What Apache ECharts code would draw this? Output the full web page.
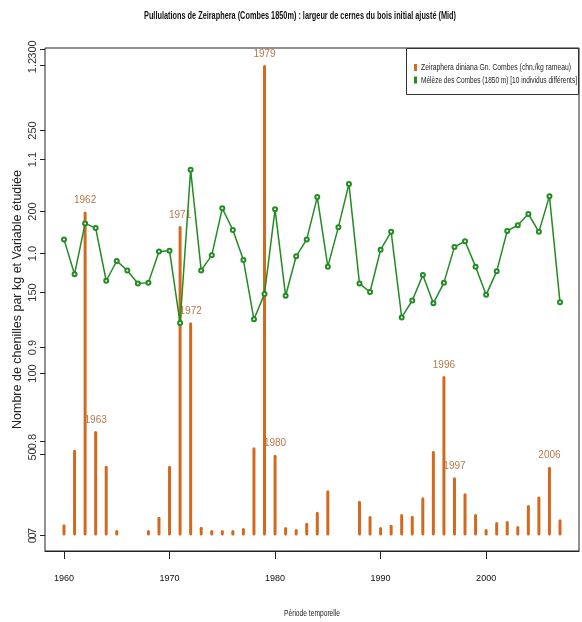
<!DOCTYPE html>
<html><head><meta charset="utf-8">
<script src="https://cdn.jsdelivr.net/npm/echarts@6/dist/echarts.min.js"></script>
<style>html,body{margin:0;padding:0;background:#fff}#c{width:582px;height:622px}</style>
</head><body><div id="c"></div>
<script>
// Caterpillar density (chn./kg rameau)
const barYears = [1960,1961,1962,1963,1964,1965,1968,1969,1970,1971,1972,1973,1974,1975,1976,1977,1978,1979,1980,1981,1982,1983,1984,1985,1988,1989,1990,1991,1992,1993,1994,1995,1996,1997,1998,1999,2000,2001,2002,2003,2004,2005,2006,2007];
const barValues = [7,53,200,64.5,43,3.4,3.4,11.6,43,191,131.6,5.4,3.4,3.4,3.4,4.6,54.4,290.4,49.9,5.2,4,7.9,14.7,28,21.5,12,5.2,6.7,13.3,12.2,23.6,52.3,98.5,35.9,26,13.3,4,8.3,9,5.9,18.8,24,42.5,10];
const labeledYears = [1962,1963,1971,1972,1979,1980,1996,1997,2006];
// Larch ring width index, 1960..2007
const lineYears = [1960,1961,1962,1963,1964,1965,1966,1967,1968,1969,1970,1971,1972,1973,1974,1975,1976,1977,1978,1979,1980,1981,1982,1983,1984,1985,1986,1987,1988,1989,1990,1991,1992,1993,1994,1995,1996,1997,1998,1999,2000,2001,2002,2003,2004,2005,2006,2007];
const lineValues = [1.015,0.978,1.032,1.027,0.971,0.992,0.982,0.968,0.969,1.002,1.003,0.926,1.089,0.982,0.998,1.048,1.025,0.993,0.930,0.957,1.047,0.955,0.997,1.015,1.060,0.986,1.028,1.074,0.968,0.959,1.004,1.023,0.932,0.950,0.977,0.947,0.969,1.007,1.013,0.986,0.956,0.981,1.024,1.030,1.042,1.023,1.061,0.948];
const xTicks = [1960,1970,1980,1990,2000];
const countTicks = [0,50,100,150,200,250,300];
const ringTicks = [0.7,0.8,0.9,1.0,1.1,1.2];

const seriesNames = ['Zeiraphera diniana Gn. Combes (chn./kg rameau)','Mélèze des Combes (1850 m) [10 individus différents]'];
const titleText = 'Pullulations de Zeiraphera (Combes 1850m) : largeur de cernes du bois initial ajusté (Mid)';
const xName = 'Période temporelle';
const yName = 'Nombre de chenilles par kg et Variable étudiée';

const SANS = '"Liberation Sans", Arial, sans-serif';
const ORANGE = '#D2691E';
const GREEN = '#228B22';

// helper: horizontal condensing factor so a text fits a given width (emulates a narrow font)
const ctx = document.createElement('canvas').getContext('2d');
function squeeze(text, size, weight, width){
  ctx.font = (weight||'normal') + ' ' + size + 'px ' + SANS;
  return Math.min(1, width / ctx.measureText(text).width);
}

const chart = echarts.init(document.getElementById('c'), null, {renderer:'canvas'});
chart.setOption({
  animation:false,
  backgroundColor:'#fff',
  legend:{show:false, data:seriesNames},
  graphic:[
    {type:'text', x:300, y:16, scaleX:squeeze(titleText,10.5,'bold',312),
     style:{text:titleText, font:'bold 10.5px '+SANS, fill:'#111', align:'center', verticalAlign:'middle'}},
    {type:'text', x:312, y:613, scaleX:squeeze(xName,9.5,'normal',56),
     style:{text:xName, font:'9.5px '+SANS, fill:'#222', align:'center', verticalAlign:'middle'}},
    {type:'rect', shape:{x:406.5, y:48.5, width:172, height:46},
     style:{fill:'#fff', stroke:'#333', lineWidth:1}, z:10},
    {type:'rect', shape:{x:414, y:64, width:3, height:7}, style:{fill:ORANGE}, z:11},
    {type:'rect', shape:{x:414, y:76.5, width:3, height:7}, style:{fill:GREEN}, z:11},
    {type:'text', x:421, y:67.7, scaleX:squeeze(seriesNames[0],9.5,'normal',150), z:11,
     style:{text:seriesNames[0], font:'9.5px '+SANS, fill:'#222', align:'left', verticalAlign:'middle'}},
    {type:'text', x:421, y:80, scaleX:squeeze(seriesNames[1],9.5,'normal',156), z:11,
     style:{text:seriesNames[1], font:'9.5px '+SANS, fill:'#222', align:'left', verticalAlign:'middle'}}
  ],
  grid:{left:45, right:3, top:48, bottom:71, show:true, borderColor:'#222', borderWidth:1,
    outerBoundsMode:'none', containLabel:false},
  xAxis:{type:'value', min:1958.2, max:2008.8,
    axisLine:{show:true, onZero:false, lineStyle:{color:'#222'}},
    splitLine:{show:false},
    axisTick:{show:true, length:8, customValues:xTicks, lineStyle:{color:'#222'}},
    axisLabel:{customValues:xTicks, margin:23, fontFamily:SANS, fontSize:9, color:'#111',
      formatter:v=>String(v)}},
  yAxis:[
    {type:'value', min:-9.57, max:300.9, position:'left',
     name:yName, nameLocation:'middle', nameGap:21, nameMoveOverlap:false,
     nameTextStyle:{fontFamily:SANS, fontSize:12.5, color:'#222'},
     axisLine:{show:false}, splitLine:{show:false},
     axisTick:{show:true, length:5, customValues:countTicks, lineStyle:{color:'#222'}},
     axisLabel:{customValues:countTicks, rotate:90, margin:7, fontFamily:SANS, fontSize:11, color:'#333',
       formatter:v=>String(v)}},
    {type:'value', min:0.6835, max:1.2186, position:'left', offset:0,
     axisLine:{show:false}, splitLine:{show:false},
     axisTick:{show:true, length:5, customValues:ringTicks, lineStyle:{color:'#222'}},
     axisLabel:{customValues:ringTicks, rotate:90, margin:7, fontFamily:SANS, fontSize:11, color:'#333',
       formatter:v=>v.toFixed(1)}}
  ],
  series:[
    {name:seriesNames[0], type:'bar', yAxisIndex:0, barWidth:3, z:2,
     itemStyle:{color:ORANGE, borderRadius:1.5},
     data:barYears.map((y,i)=>({value:[y,barValues[i]],
       label:{show:labeledYears.includes(y), position:'top', distance:6, formatter:String(y),
         fontFamily:SANS, fontSize:10, color:'#B5784A'}}))},
    {name:seriesNames[1], type:'line', yAxisIndex:1, z:3,
     symbol:'emptyCircle', symbolSize:4, showAllSymbol:true,
     lineStyle:{color:GREEN, width:1.5}, itemStyle:{color:GREEN, borderWidth:1.2},
     data:lineYears.map((y,i)=>[y,lineValues[i]])}
  ]
});
</script></body></html>
